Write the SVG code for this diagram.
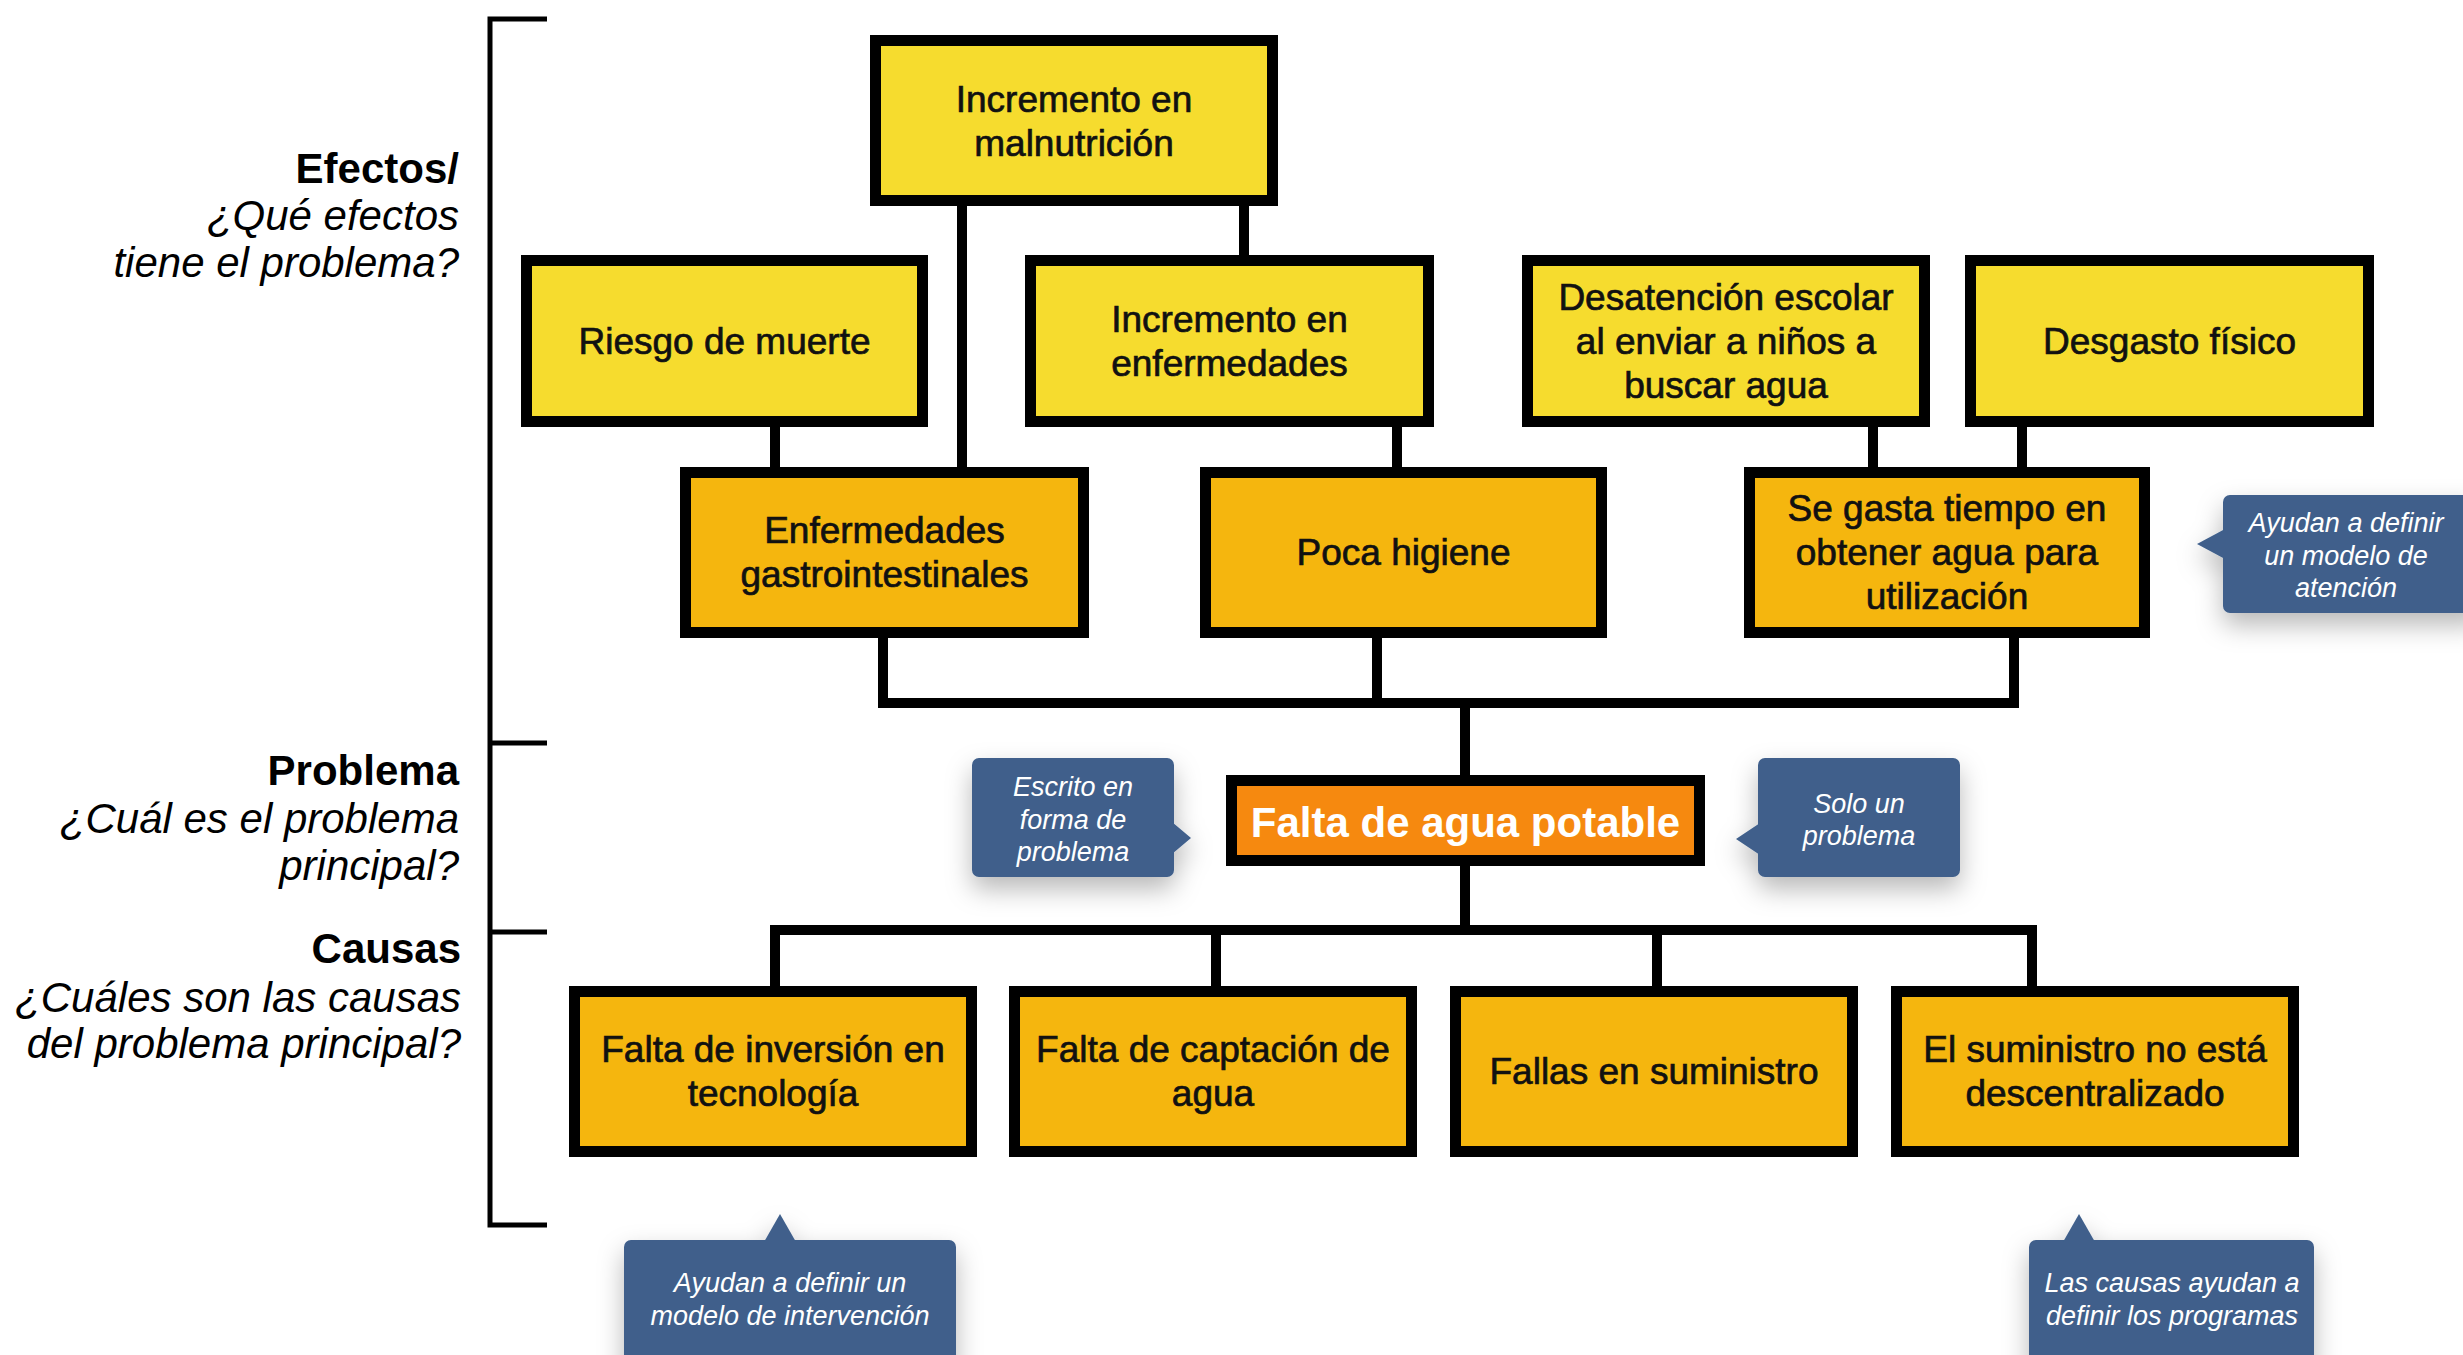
<svg xmlns="http://www.w3.org/2000/svg" width="2463" height="1355" viewBox="0 0 2463 1355">
  <defs>
    <filter id="shadow" x="-30%" y="-30%" width="160%" height="180%">
      <feDropShadow dx="0" dy="12" stdDeviation="13" flood-color="#000" flood-opacity="0.28"/>
    </filter>
  </defs>
  <style>
    .box{stroke:#000;stroke-width:11}
    .y{fill:#F6DC2E}
    .o{fill:#F5B60E}
    .t{font-family:"Liberation Sans",Arial,sans-serif;font-size:37px;fill:#111;stroke:#111;stroke-width:0.7px;text-anchor:middle}
    .conn{fill:none;stroke:#000;stroke-width:10;stroke-linejoin:miter}
    .lab{font-family:"Liberation Sans",Arial,sans-serif;font-size:42px;fill:#000;text-anchor:end}
    .b{font-weight:bold}
    .i{font-style:italic}
    .call{fill:#3F5F8B}
    .ct{font-family:"Liberation Sans",Arial,sans-serif;font-size:27px;font-style:italic;fill:#fff;text-anchor:middle}
  </style>
  <rect width="2463" height="1355" fill="#fff"/>

  <!-- bracket and side labels -->
  <g id="bracket" fill="none" stroke="#000" stroke-width="5">
    <path d="M547 19 H490 V1225 H547"/>
    <path d="M490 743 H547"/>
    <path d="M490 932 H547"/>
  </g>
  <g id="labels">
    <text class="lab b" x="459" y="183">Efectos/</text>
    <text class="lab i" x="459" y="230">¿Qué efectos</text>
    <text class="lab i" x="459" y="277">tiene el problema?</text>
    <text class="lab b" x="459" y="785">Problema</text>
    <text class="lab i" x="459" y="833">¿Cuál es el problema</text>
    <text class="lab i" x="459" y="880">principal?</text>
    <text class="lab b" x="461" y="963">Causas</text>
    <text class="lab i" x="461" y="1012">¿Cuáles son las causas</text>
    <text class="lab i" x="461" y="1058">del problema principal?</text>
  </g>

  <!-- connectors -->
  <g id="connectors" class="conn">
    <path d="M962 206 V467"/>
    <path d="M1244 206 V255"/>
    <path d="M775 427 V467"/>
    <path d="M1397 427 V467"/>
    <path d="M1873 427 V467"/>
    <path d="M2022 427 V467"/>
    <path d="M883 638 V703 H2014 V638"/>
    <path d="M1377 638 V703"/>
    <path d="M1465 703 V775"/>
    <path d="M1465 866 V930"/>
    <path d="M775 986 V930 H2032 V986"/>
    <path d="M1216 930 V986"/>
    <path d="M1657 930 V986"/>
  </g>

  <!-- effects -->
  <g id="malnutricion">
    <rect class="box y" x="875.5" y="40.5" width="397" height="160"/>
    <text class="t" x="1074" y="111.5">Incremento en</text>
    <text class="t" x="1074" y="155.5">malnutrición</text>
  </g>
  <g id="riesgo">
    <rect class="box y" x="526.5" y="260.5" width="396" height="161"/>
    <text class="t" x="724.5" y="354">Riesgo de muerte</text>
  </g>
  <g id="enfermedades">
    <rect class="box y" x="1030.5" y="260.5" width="398" height="161"/>
    <text class="t" x="1229.5" y="332">Incremento en</text>
    <text class="t" x="1229.5" y="376">enfermedades</text>
  </g>
  <g id="desatencion">
    <rect class="box y" x="1527.5" y="260.5" width="397" height="161"/>
    <text class="t" x="1726" y="310">Desatención escolar</text>
    <text class="t" x="1726" y="354">al enviar a niños a</text>
    <text class="t" x="1726" y="398">buscar agua</text>
  </g>
  <g id="desgasto">
    <rect class="box y" x="1970.5" y="260.5" width="398" height="161"/>
    <text class="t" x="2169.5" y="354">Desgasto físico</text>
  </g>
  <g id="gastro">
    <rect class="box o" x="685.5" y="472.5" width="398" height="160"/>
    <text class="t" x="884.5" y="543">Enfermedades</text>
    <text class="t" x="884.5" y="587">gastrointestinales</text>
  </g>
  <g id="higiene">
    <rect class="box o" x="1205.5" y="472.5" width="396" height="160"/>
    <text class="t" x="1403.5" y="565">Poca higiene</text>
  </g>
  <g id="tiempo">
    <rect class="box o" x="1749.5" y="472.5" width="395" height="160"/>
    <text class="t" x="1947" y="521">Se gasta tiempo en</text>
    <text class="t" x="1947" y="565">obtener agua para</text>
    <text class="t" x="1947" y="609">utilización</text>
  </g>

  <!-- problem -->
  <g id="problema">
    <rect class="box" fill="#F6890F" x="1231.5" y="780.5" width="468" height="80"/>
    <text x="1465.5" y="837" font-family="Liberation Sans, Arial, sans-serif" font-size="42" font-weight="bold" fill="#fff" text-anchor="middle">Falta de agua potable</text>
  </g>

  <!-- causes -->
  <g id="inversion">
    <rect class="box o" x="574.5" y="991.5" width="397" height="160"/>
    <text class="t" x="773" y="1062">Falta de inversión en</text>
    <text class="t" x="773" y="1106">tecnología</text>
  </g>
  <g id="captacion">
    <rect class="box o" x="1014.5" y="991.5" width="397" height="160"/>
    <text class="t" x="1213" y="1062">Falta de captación de</text>
    <text class="t" x="1213" y="1106">agua</text>
  </g>
  <g id="fallas">
    <rect class="box o" x="1455.5" y="991.5" width="397" height="160"/>
    <text class="t" x="1654" y="1084">Fallas en suministro</text>
  </g>
  <g id="descentralizado">
    <rect class="box o" x="1896.5" y="991.5" width="397" height="160"/>
    <text class="t" x="2095" y="1062">El suministro no está</text>
    <text class="t" x="2095" y="1106">descentralizado</text>
  </g>

  <!-- callouts -->
  <g id="callout-escrito">
    <g filter="url(#shadow)" class="call">
      <rect x="972" y="758" width="202" height="119" rx="7"/>
      <polygon points="1172,822 1191,838 1172,854"/>
    </g>
    <text class="ct" x="1073" y="796">Escrito en</text>
    <text class="ct" x="1073" y="829">forma de</text>
    <text class="ct" x="1073" y="861">problema</text>
  </g>
  <g id="callout-solo">
    <g filter="url(#shadow)" class="call">
      <rect x="1758" y="758" width="202" height="119" rx="7"/>
      <polygon points="1760,823 1736,839 1760,855"/>
    </g>
    <text class="ct" x="1859" y="813">Solo un</text>
    <text class="ct" x="1859" y="845">problema</text>
  </g>
  <g id="callout-atencion">
    <g filter="url(#shadow)" class="call">
      <rect x="2223" y="495" width="260" height="118" rx="7"/>
      <polygon points="2225,529 2197,544 2225,559"/>
    </g>
    <text class="ct" x="2346" y="532">Ayudan a definir</text>
    <text class="ct" x="2346" y="565">un modelo de</text>
    <text class="ct" x="2346" y="597">atención</text>
  </g>
  <g id="callout-intervencion">
    <g filter="url(#shadow)" class="call">
      <rect x="624" y="1240" width="332" height="140" rx="7"/>
      <polygon points="764,1242 780,1214 796,1242"/>
    </g>
    <text class="ct" x="790" y="1292">Ayudan a definir un</text>
    <text class="ct" x="790" y="1325">modelo de intervención</text>
  </g>
  <g id="callout-programas">
    <g filter="url(#shadow)" class="call">
      <rect x="2029" y="1240" width="285" height="140" rx="7"/>
      <polygon points="2063,1242 2079,1214 2095,1242"/>
    </g>
    <text class="ct" x="2172" y="1292">Las causas ayudan a</text>
    <text class="ct" x="2172" y="1325">definir los programas</text>
  </g>
</svg>
